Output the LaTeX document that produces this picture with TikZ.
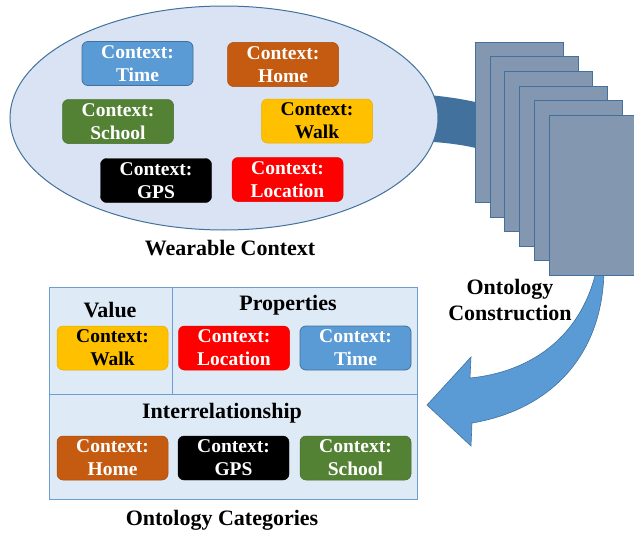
\documentclass[tikz,border=0pt]{standalone}
\usepackage{fontspec}
\setmainfont{Liberation Serif}
\usetikzlibrary{shapes.geometric}
\definecolor{cTime}{HTML}{5B9BD5}
\definecolor{cTimeB}{HTML}{41719C}
\definecolor{cHome}{HTML}{C55A11}
\definecolor{cSchool}{HTML}{548235}
\definecolor{cWalk}{HTML}{FFC000}
\definecolor{cLoc}{HTML}{FF0000}
\definecolor{cEll}{HTML}{DAE3F3}
\definecolor{cEllB}{HTML}{41719C}
\definecolor{cPanel}{HTML}{DEEBF7}
\definecolor{cPanelB}{HTML}{6C9ED3}
\definecolor{cPage}{HTML}{8497B0}
\definecolor{cPageB}{HTML}{41719C}
\definecolor{cBand}{HTML}{41719C}
\definecolor{cArrow}{HTML}{5B9BD5}
\tikzset{
  ctx/.style={rounded corners=6pt, minimum width=111pt, minimum height=44pt,
    inner sep=0pt, align=center, text=white,
    font=\fontsize{19.5}{23}\selectfont\bfseries},
  ctxTime/.style={ctx, fill=cTime, draw=cTimeB, line width=0.8pt},
  ctxHome/.style={ctx, fill=cHome, draw=cHome!85!black, line width=0.5pt},
  ctxSchool/.style={ctx, fill=cSchool, draw=cSchool!85!black, line width=0.5pt},
  ctxWalk/.style={ctx, fill=cWalk, draw=cWalk!90!black, line width=0.5pt, text=black},
  ctxGPS/.style={ctx, fill=black, draw=black},
  ctxLoc/.style={ctx, fill=cLoc, draw=cLoc!90!black, line width=0.5pt},
  heading/.style={font=\fontsize{22}{26}\selectfont\bfseries, align=center, inner sep=0pt},
  pagebox/.style={fill=cPage, draw=cPageB, line width=1pt, minimum width=88pt,
    minimum height=160pt, inner sep=0pt, anchor=north west},
}
\begin{document}
\begin{tikzpicture}[x=1pt,y=-1pt]
\useasboundingbox (0,0) rectangle (634,535);

% dark band leading from the ellipse into the stack of pages
\fill[cBand] (415,94) .. controls (445,96) and (462,99) .. (480,103)
  -- (480,149) .. controls (460,144) and (440,142) .. (415,141) -- cycle;

% wearable context ellipse
\node[draw=cEllB, fill=cEll, line width=1pt, ellipse, minimum width=428pt,
  minimum height=224pt, inner sep=0pt] (ell) at (224,118) {};

\node[ctxTime]   (wTime)   at (137.5,63.5)  {Context:\\Time};
\node[ctxHome]   (wHome)   at (283,64.5)    {Context:\\Home};
\node[ctxSchool] (wSchool) at (118,121.5)   {Context:\\School};
\node[ctxWalk]   (wWalk)   at (317,121)     {Context:\\Walk};
\node[ctxGPS]    (wGPS)    at (156,180.5)   {Context:\\GPS};
\node[ctxLoc]    (wLoc)    at (287.5,179.5) {Context:\\Location};

\node[heading] (wTitle) at (230,248) {Wearable Context};

% curved arrow down to the categories panel (behind the pages)
\filldraw[fill=cArrow, draw=cTimeB, line width=0.6pt]
  (598,262) .. controls (585,335) and (532,372) .. (470,378)
  -- (471,357) -- (427,405) -- (471,446) -- (472,423)
  .. controls (550,410) and (606,355) .. (604,262) -- cycle;

% stack of ontology pages
\foreach \i in {0,...,5}{
  \node[pagebox] (page\i) at ({475+14.7*\i},{42+14.5*\i}) {};
}

\node[heading] (ocTitle) at (510,300) {Ontology\\Construction};

% ontology categories panel
\node[draw=cPanelB, fill=cPanel, line width=0.8pt, minimum width=368pt,
  minimum height=212pt, inner sep=0pt, anchor=north west] (panel) at (49,287) {};
\coordinate (hL) at (49,394);
\coordinate (hR) at (417,394);
\coordinate (vT) at (172,287);
\coordinate (vB) at (172,394);
\draw[cPanelB, line width=0.8pt] (hL) -- (hR);
\draw[cPanelB, line width=0.8pt] (vT) -- (vB);

\node[heading] (hValue) at (110,310) {Value};
\node[heading] (hProp)  at (288,305) {Properties};
\node[heading] (hInter) at (222,413) {Interrelationship};

\node[ctxWalk]   (cWalkN)   at (112.5,348) {Context:\\Walk};
\node[ctxLoc]    (cLocN)    at (234,348)   {Context:\\Location};
\node[ctxTime]   (cTimeN)   at (355.5,348) {Context:\\Time};
\node[ctxHome]   (cHomeN)   at (112.5,458) {Context:\\Home};
\node[ctxGPS]    (cGPSN)    at (233.5,458) {Context:\\GPS};
\node[ctxSchool] (cSchoolN) at (355.5,458) {Context:\\School};

\node[heading] (catTitle) at (222,520) {Ontology Categories};
\end{tikzpicture}
\end{document}
